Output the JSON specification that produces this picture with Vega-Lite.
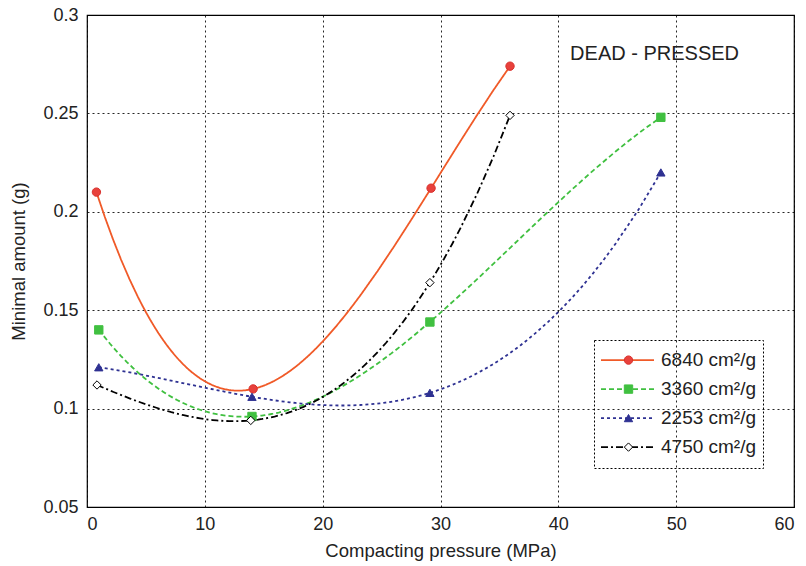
{
  "$schema": "https://vega.github.io/schema/vega-lite/v6.json",
  "width": 707,
  "height": 492,
  "autosize": {"type": "none"},
  "padding": {"left": 87, "top": 15, "right": 12, "bottom": 59},
  "config": {
    "font": "Liberation Sans",
    "view": {"stroke": "#000", "strokeWidth": 1.2},
    "axis": {
      "grid": true,
      "gridColor": "#000",
      "gridDash": [2, 3],
      "gridWidth": 1,
      "gridOpacity": 0.85,
      "domain": false,
      "ticks": false,
      "labelFontSize": 18,
      "labelColor": "#222",
      "titleFontSize": 18.5,
      "titleFontWeight": "normal",
      "titleColor": "#222"
    }
  },
  "datasets": {
    "points": [
      {"series": "6840 cm²/g", "pressure": 0.8, "amount": 0.210},
      {"series": "6840 cm²/g", "pressure": 14.1, "amount": 0.110},
      {"series": "6840 cm²/g", "pressure": 29.2, "amount": 0.212},
      {"series": "6840 cm²/g", "pressure": 35.9, "amount": 0.274},
      {"series": "3360 cm²/g", "pressure": 1.0, "amount": 0.140},
      {"series": "3360 cm²/g", "pressure": 14.0, "amount": 0.096},
      {"series": "3360 cm²/g", "pressure": 29.1, "amount": 0.144},
      {"series": "3360 cm²/g", "pressure": 48.7, "amount": 0.248},
      {"series": "2253 cm²/g", "pressure": 1.0, "amount": 0.121},
      {"series": "2253 cm²/g", "pressure": 14.0, "amount": 0.106},
      {"series": "2253 cm²/g", "pressure": 29.1, "amount": 0.108},
      {"series": "2253 cm²/g", "pressure": 48.7, "amount": 0.220},
      {"series": "4750 cm²/g", "pressure": 0.85, "amount": 0.112},
      {"series": "4750 cm²/g", "pressure": 13.9, "amount": 0.094},
      {"series": "4750 cm²/g", "pressure": 29.1, "amount": 0.164},
      {"series": "4750 cm²/g", "pressure": 35.9, "amount": 0.249}
    ],
    "note": [
      {"pressure": 41, "amount": 0.2802, "label": "DEAD - PRESSED"}
    ]
  },
  "layer": [
    {
      "data": {"name": "points"},
      "transform": [
        {"regression": "amount", "on": "pressure", "groupby": ["series"], "method": "poly", "order": 3}
      ],
      "mark": {"type": "line", "strokeWidth": 1.8},
      "encoding": {
        "x": {
          "field": "pressure", "type": "quantitative",
          "scale": {"domain": [0, 60], "nice": false},
          "axis": {"values": [0, 10, 20, 30, 40, 50, 60], "format": "d", "labelPadding": 8, "titlePadding": 8},
          "title": "Compacting pressure (MPa)"
        },
        "y": {
          "field": "amount", "type": "quantitative",
          "scale": {"domain": [0.05, 0.3], "nice": false, "zero": false},
          "axis": {"values": [0.05, 0.1, 0.15, 0.2, 0.25, 0.3], "format": "~g", "labelPadding": 9, "titlePadding": 14},
          "title": "Minimal amount (g)"
        },
        "stroke": {
          "field": "series", "type": "nominal",
          "scale": {
            "domain": ["6840 cm²/g", "3360 cm²/g", "2253 cm²/g", "4750 cm²/g"],
            "range": ["#f05a28", "#40c040", "#2e3192", "#000000"]
          },
          "legend": {
            "orient": "none", "legendX": 507, "legendY": 325, "title": null,
            "symbolType": "stroke", "symbolSize": 2809, "symbolStrokeWidth": 1.8,
            "clipHeight": 28.2, "rowPadding": 0, "padding": 6,
            "strokeColor": "#000", "labelFontSize": 19, "labelOffset": 6, "labelColor": "#222", "labelLimit": 300,
            "encode": {"legend": {"update": {"strokeDash": {"value": [2, 2]}, "stroke": {"value": "#000"}}}}
          }
        },
        "strokeDash": {
          "field": "series", "type": "nominal",
          "scale": {
            "domain": ["6840 cm²/g", "3360 cm²/g", "2253 cm²/g", "4750 cm²/g"],
            "range": [[1, 0], [5, 3], [3, 3], [7, 3, 2, 3]]
          },
          "legend": {
            "orient": "none", "legendX": 507, "legendY": 325, "title": null,
            "symbolType": "stroke", "symbolSize": 2809, "symbolStrokeWidth": 1.8,
            "clipHeight": 28.2, "rowPadding": 0, "padding": 6,
            "strokeColor": "#000", "labelFontSize": 19, "labelOffset": 6, "labelColor": "#222", "labelLimit": 300,
            "encode": {"legend": {"update": {"strokeDash": {"value": [2, 2]}, "stroke": {"value": "#000"}}}}
          }
        }
      }
    },
    {
      "data": {"name": "points"},
      "mark": {"type": "point", "filled": true, "size": 70, "strokeWidth": 1, "opacity": 1},
      "encoding": {
        "x": {"field": "pressure", "type": "quantitative"},
        "y": {"field": "amount", "type": "quantitative"},
        "fill": {
          "field": "series", "type": "nominal",
          "scale": {"domain": ["6840 cm²/g", "3360 cm²/g", "2253 cm²/g", "4750 cm²/g"], "range": ["#e8413c", "#40c040", "#2e3192", "#ffffff"]},
          "legend": {
            "orient": "none", "legendX": 526.5, "legendY": 325, "title": null,
            "symbolSize": 70, "symbolStrokeWidth": 1, "clipHeight": 28.2, "rowPadding": 0, "padding": 6,
            "labelFontSize": 18, "labelExpr": "''"
          }
        },
        "stroke": {
          "field": "series", "type": "nominal",
          "scale": {"domain": ["6840 cm²/g", "3360 cm²/g", "2253 cm²/g", "4750 cm²/g"], "range": ["#d9302c", "#40c040", "#2e3192", "#000000"]},
          "legend": {
            "orient": "none", "legendX": 526.5, "legendY": 325, "title": null,
            "symbolSize": 70, "symbolStrokeWidth": 1, "clipHeight": 28.2, "rowPadding": 0, "padding": 6,
            "labelFontSize": 18, "labelExpr": "''"
          }
        },
        "shape": {
          "field": "series", "type": "nominal",
          "scale": {"domain": ["6840 cm²/g", "3360 cm²/g", "2253 cm²/g", "4750 cm²/g"], "range": ["circle", "square", "triangle-up", "diamond"]},
          "legend": {
            "orient": "none", "legendX": 526.5, "legendY": 325, "title": null,
            "symbolSize": 70, "symbolStrokeWidth": 1, "clipHeight": 28.2, "rowPadding": 0, "padding": 6,
            "labelFontSize": 18, "labelExpr": "''"
          }
        }
      }
    },
    {
      "data": {"name": "note"},
      "mark": {"type": "text", "align": "left", "baseline": "middle", "fontSize": 20, "color": "#222"},
      "encoding": {
        "x": {"field": "pressure", "type": "quantitative"},
        "y": {"field": "amount", "type": "quantitative"},
        "text": {"field": "label"}
      }
    }
  ],
  "resolve": {
    "scale": {"stroke": "independent", "fill": "independent", "shape": "independent", "strokeDash": "independent"},
    "legend": {"stroke": "independent", "fill": "independent", "shape": "independent", "strokeDash": "independent"}
  }
}
